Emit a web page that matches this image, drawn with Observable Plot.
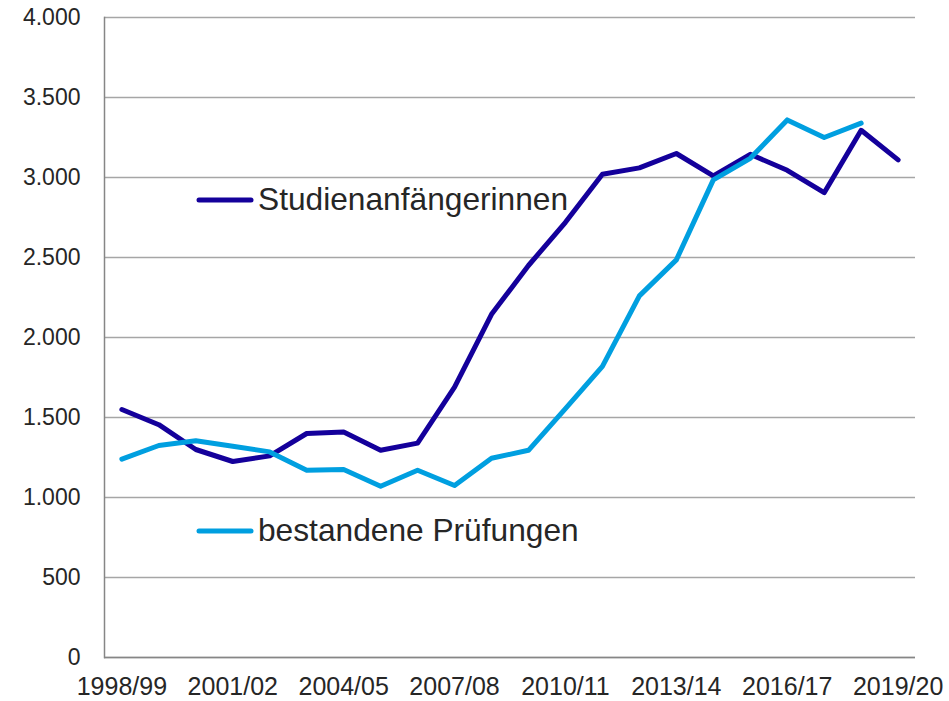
<!DOCTYPE html>
<html>
<head>
<meta charset="utf-8">
<script src="https://cdn.jsdelivr.net/npm/d3@7"></script>
<script src="https://cdn.jsdelivr.net/npm/@observablehq/plot@0.6"></script>
<style>
  html, body { margin: 0; padding: 0; background: #fff; }
  #wrap { position: relative; width: 949px; height: 701px; font-family: "Liberation Sans", Arial, sans-serif; }
  #legend { position: absolute; left: 0; top: 0; pointer-events: none; }
</style>
</head>
<body>
<div id="wrap"></div>
<script>
const years = ["1998/99","1999/00","2000/01","2001/02","2002/03","2003/04","2004/05","2005/06","2006/07","2007/08","2008/09","2009/10","2010/11","2011/12","2012/13","2013/14","2014/15","2015/16","2016/17","2017/18","2018/19","2019/20"];
const studienanfaengerinnen = [1550,1455,1300,1225,1260,1400,1410,1295,1340,1690,2145,2450,2720,3020,3060,3150,3010,3145,3045,2905,3295,3110];
const bestandenePruefungen = [1240,1325,1355,1320,1285,1170,1175,1070,1170,1075,1245,1295,1555,1820,2260,2485,2985,3120,3360,3250,3340,null];
const xTickLabels = ["1998/99","2001/02","2004/05","2007/08","2010/11","2013/14","2016/17","2019/20"];
const yTicks = [0,500,1000,1500,2000,2500,3000,3500,4000];
const seriesNames = ["Studienanfängerinnen","bestandene Prüfungen"];
const colors = ["#14009b","#009fe0"];

const de = d3.formatLocale({decimal: ",", thousands: ".", grouping: [3], currency: ["", " €"]});
const fmt = de.format(",");

const rows = [];
years.forEach((y, i) => {
  rows.push({year: y, series: seriesNames[0], value: studienanfaengerinnen[i]});
  rows.push({year: y, series: seriesNames[1], value: bestandenePruefungen[i]});
});

const chart = Plot.plot({
  width: 949,
  height: 701,
  marginLeft: 104,
  marginRight: 34,
  marginTop: 17,
  marginBottom: 44,
  style: {fontFamily: "'Liberation Sans', Arial, sans-serif", color: "#262626", background: "#fff"},
  x: {type: "point", domain: years, padding: 0.47, round: false, label: null},
  y: {domain: [0, 4000], label: null},
  color: {domain: seriesNames, range: colors},
  marks: [
    Plot.gridY(yTicks, {stroke: "#a6a6a6", strokeOpacity: 1, strokeWidth: 1.5}),
    Plot.ruleY([0], {stroke: "#868686", strokeWidth: 1.5}),
    Plot.frame({anchor: "left", stroke: "#868686", strokeWidth: 1.5}),
    Plot.axisY(yTicks, {tickSize: 0, tickPadding: 24, tickFormat: fmt, fontSize: 23, fill: "#262626"}),
    Plot.axisX(xTickLabels, {tickSize: 0, tickPadding: 20, fontSize: 25, fill: "#262626"}),
    Plot.lineY(rows, {x: "year", y: "value", z: "series", stroke: "series", strokeWidth: 5, strokeLinejoin: "round", strokeLinecap: "round"})
  ]
});
document.getElementById("wrap").appendChild(chart);

// Legend overlay (inside plot area, as in the original)
const ns = "http://www.w3.org/2000/svg";
const leg = document.createElementNS(ns, "svg");
leg.setAttribute("id", "legend");
leg.setAttribute("width", 949);
leg.setAttribute("height", 701);
const legendItems = [
  {name: seriesNames[0], color: colors[0], y: 200},
  {name: seriesNames[1], color: colors[1], y: 531}
];
legendItems.forEach(d => {
  const l = document.createElementNS(ns, "line");
  l.setAttribute("x1", 199); l.setAttribute("x2", 251);
  l.setAttribute("y1", d.y); l.setAttribute("y2", d.y);
  l.setAttribute("stroke", d.color); l.setAttribute("stroke-width", 5);
  l.setAttribute("stroke-linecap", "round");
  leg.appendChild(l);
  const t = document.createElementNS(ns, "text");
  t.setAttribute("x", 258); t.setAttribute("y", d.y + 10);
  t.setAttribute("font-size", 31.7);
  t.setAttribute("font-family", "'Liberation Sans', Arial, sans-serif");
  t.setAttribute("fill", "#262626");
  t.textContent = d.name;
  leg.appendChild(t);
});
document.getElementById("wrap").appendChild(leg);
</script>
</body>
</html>
